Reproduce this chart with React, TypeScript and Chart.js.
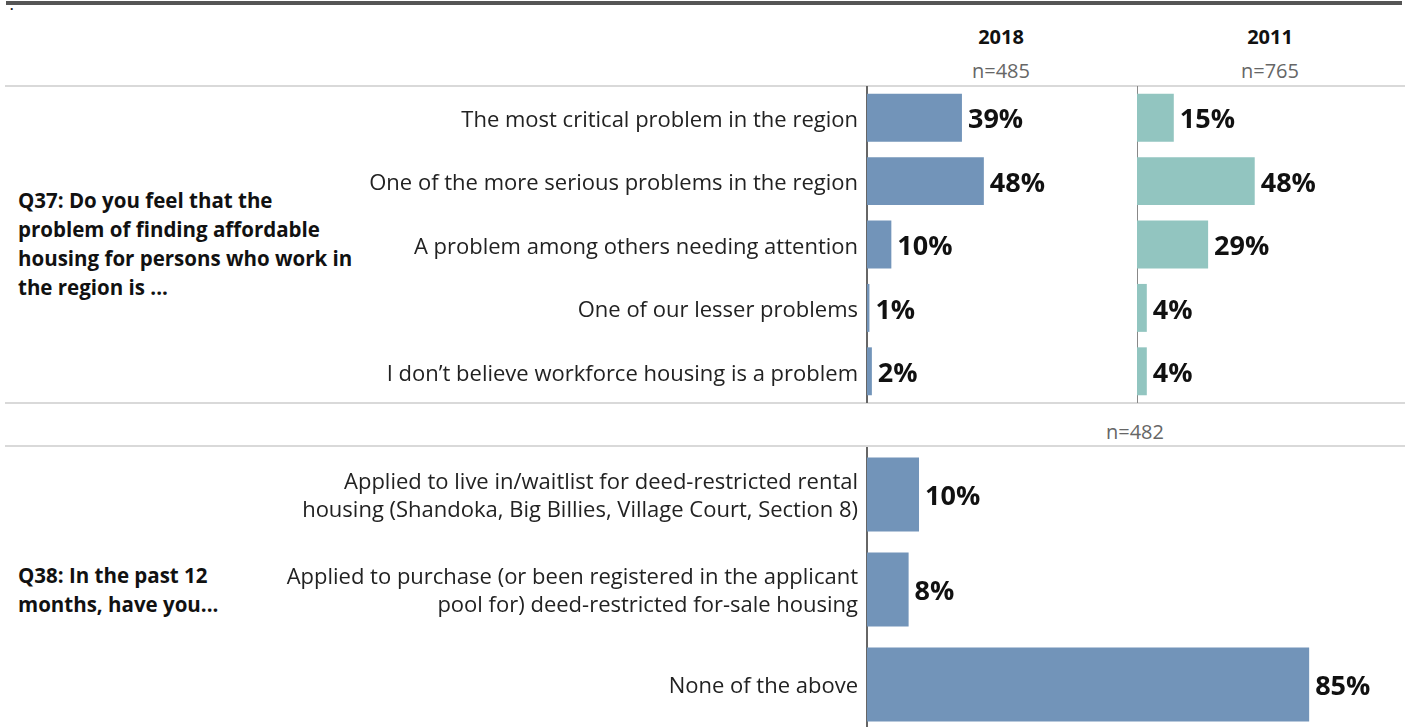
import React, { useEffect, useRef } from "react";
import { Chart, registerables } from "chart.js";

Chart.register(...registerables);

const q37Categories = [
  "The most critical problem in the region",
  "One of the more serious problems in the region",
  "A problem among others needing attention",
  "One of our lesser problems",
  "I don\u2019t believe workforce housing is a problem",
];
const q37Values2018 = [39, 48, 10, 1, 2];
const q37Values2011 = [15, 48, 29, 4, 4];

const q38Categories = [
  ["Applied to live in/waitlist for deed-restricted rental", "housing (Shandoka, Big Billies, Village Court, Section 8)"],
  ["Applied to purchase (or been registered in the applicant", "pool for) deed-restricted for-sale housing"],
  "None of the above",
];
const q38Values2018 = [10, 8, 85];

const yearLabels = ["2018", "2011"];
const sampleSizes = ["n=485", "n=765", "n=482"];

const BLUE = "#7294b9";
const TEAL = "#92c5c0";
const FONT = "'Open Sans', sans-serif";

const valueLabelPlugin = {
  id: "valueLabels",
  afterDatasetsDraw(chart: any) {
    const ctx = chart.ctx;
    ctx.save();
    ctx.font = `bold 27px ${FONT}`;
    ctx.fillStyle = "#111";
    ctx.textAlign = "left";
    ctx.textBaseline = "middle";
    chart.data.datasets.forEach((ds: any, di: number) => {
      const meta = chart.getDatasetMeta(di);
      meta.data.forEach((bar: any, i: number) => {
        ctx.fillText(`${ds.data[i]}%`, bar.x + 6, bar.y + 3);
      });
    });
    ctx.restore();
  },
};

function BarPanel(props: {
  labels: any[];
  values: number[];
  color: string;
  max: number;
  left: number;
  top: number;
  width: number;
  height: number;
  axisWidth: number;
  showLabels: boolean;
  borderColor: string;
  borderWidth: number;
  barPct: number;
  labelShift: number;
}) {
  const ref = useRef<HTMLCanvasElement | null>(null);
  useEffect(() => {
    if (!ref.current) return;
    const chart = new Chart(ref.current, {
      type: "bar",
      data: {
        labels: props.labels,
        datasets: [
          {
            data: props.values,
            backgroundColor: props.color,
            borderWidth: 0,
            categoryPercentage: 1,
            barPercentage: props.barPct,
          },
        ],
      },
      options: {
        indexAxis: "y",
        animation: false,
        responsive: false,
        maintainAspectRatio: false,
        devicePixelRatio: 1,
        layout: { padding: 0 },
        plugins: {
          legend: { display: false },
          tooltip: { enabled: false },
        },
        scales: {
          x: {
            display: false,
            min: 0,
            max: props.max,
          },
          y: {
            display: true,
            grid: { display: false, drawTicks: false },
            border: { display: true, color: props.borderColor, width: props.borderWidth },
            ticks: {
              display: props.showLabels,
              autoSkip: false,
              padding: 9,
              labelOffset: props.labelShift,
              color: "#222",
              font: { family: FONT, size: 22, lineHeight: 28 / 22 },
            },
            afterFit: (scale: any) => {
              scale.width = props.axisWidth;
              scale.paddingTop = 0;
              scale.paddingBottom = 0;
            },
          },
        },
      },
      plugins: [valueLabelPlugin],
    } as any);
    return () => chart.destroy();
  }, []);
  return (
    <canvas
      ref={ref}
      width={props.width}
      height={props.height}
      style={{ position: "absolute", left: props.left, top: props.top, width: props.width, height: props.height }}
    />
  );
}

const hLine = (top: number): React.CSSProperties => ({
  position: "absolute",
  left: 5,
  top,
  width: 1400,
  height: 2,
  background: "#d9d9d9",
});

const centered = (cx: number, cy: number, extra: React.CSSProperties): React.CSSProperties => ({
  position: "absolute",
  left: cx - 100,
  width: 200,
  top: cy - 14,
  height: 28,
  lineHeight: "28px",
  textAlign: "center",
  ...extra,
});

export default function App() {
  return (
    <div
      style={{
        position: "absolute",
        left: 0,
        top: 0,
        width: 1408,
        height: 727,
        overflow: "hidden",
        background: "#fff",
        fontFamily: FONT,
      }}
    >
      <div style={{ position: "absolute", left: 6, top: 1, width: 1396, height: 4, background: "#555" }} />
      <div style={{ position: "absolute", left: 10, top: 0, fontSize: 12, lineHeight: "12px", color: "#111", fontWeight: 700 }}>.</div>

      <div style={centered(1001, 37, { fontWeight: 700, fontSize: 20, color: "#111" })}>{yearLabels[0]}</div>
      <div style={centered(1001, 71, { fontSize: 20, color: "#666" })}>{sampleSizes[0]}</div>
      <div style={centered(1270, 37, { fontWeight: 700, fontSize: 20, color: "#111" })}>{yearLabels[1]}</div>
      <div style={centered(1270, 71, { fontSize: 20, color: "#666" })}>{sampleSizes[1]}</div>
      <div style={centered(1135, 432, { fontSize: 20, color: "#666" })}>{sampleSizes[2]}</div>

      <div style={hLine(85)} />
      <div style={hLine(402)} />
      <div style={hLine(445)} />

      <div
        style={{
          position: "absolute",
          left: 18,
          top: 186,
          fontWeight: 700,
          fontSize: 20.5,
          lineHeight: "29px",
          color: "#111",
          whiteSpace: "nowrap",
        }}
      >
        Q37: Do you feel that the
        <br />
        problem of finding affordable
        <br />
        housing for persons who work in
        <br />
        the region is ...
      </div>
      <div
        style={{
          position: "absolute",
          left: 18,
          top: 561,
          fontWeight: 700,
          fontSize: 20.5,
          lineHeight: "29px",
          color: "#111",
          whiteSpace: "nowrap",
        }}
      >
        Q38: In the past 12
        <br />
        months, have you...
      </div>

      <BarPanel
        labels={q37Categories}
        values={q37Values2018}
        color={BLUE}
        max={110.5}
        left={0}
        top={86}
        width={1136}
        height={317}
        axisWidth={867}
        showLabels={true}
        borderColor="#666"
        borderWidth={2}
        barPct={0.756}
        labelShift={3}
      />
      <BarPanel
        labels={q37Categories}
        values={q37Values2011}
        color={TEAL}
        max={110.5}
        left={1130}
        top={86}
        width={278}
        height={317}
        axisWidth={7}
        showLabels={false}
        borderColor="#888"
        borderWidth={1}
        barPct={0.756}
        labelShift={0}
      />
      <BarPanel
        labels={q38Categories}
        values={q38Values2018}
        color={BLUE}
        max={104}
        left={0}
        top={447}
        width={1408}
        height={285}
        axisWidth={867}
        showLabels={true}
        borderColor="#666"
        borderWidth={2}
        barPct={0.78}
        labelShift={2}
      />
    </div>
  );
}
